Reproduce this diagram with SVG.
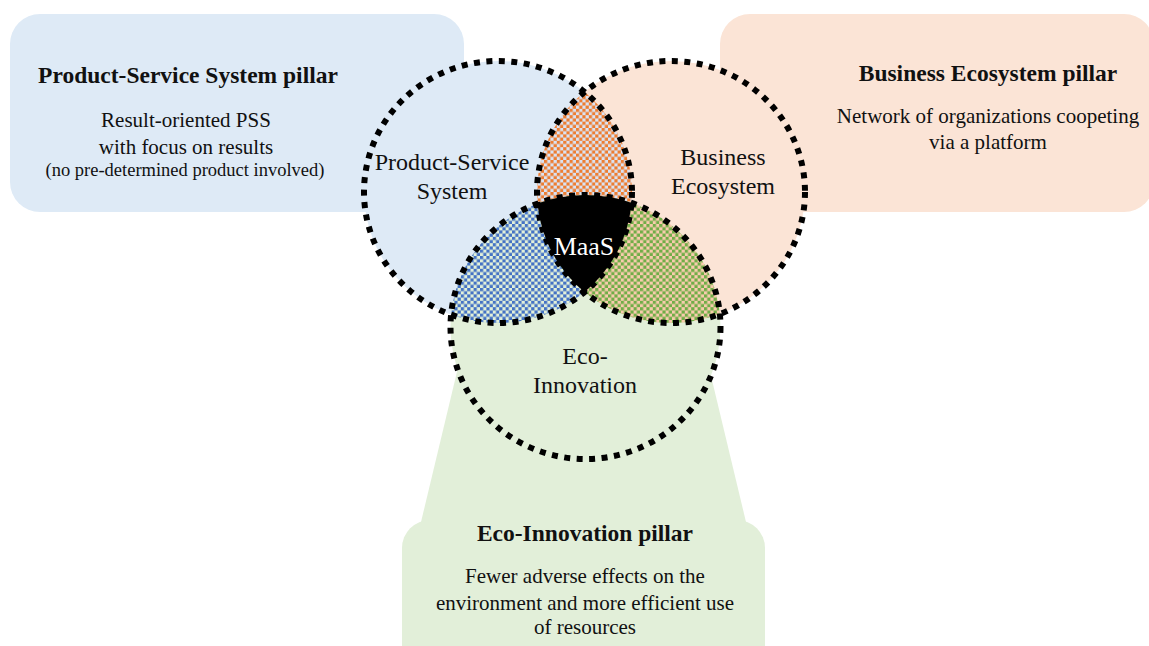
<svg xmlns="http://www.w3.org/2000/svg" width="1149" height="646" viewBox="0 0 1149 646">
  <style>
    .t { font-family: "Liberation Serif", "Times New Roman", serif; fill: #111; text-anchor: middle; }
    .title { font-size: 23.5px; font-weight: bold; }
    .body { font-size: 21px; }
    .small { font-size: 18.5px; }
    .lbl { font-size: 24px; }
    .maas { font-size: 26px; fill: #ffffff; }
    .dots { fill: none; stroke: #000; stroke-width: 6; stroke-dasharray: 6 6.5; }
  </style>
  <defs>
    <pattern id="chkOrange" patternUnits="userSpaceOnUse" width="6.4" height="6.4">
      <rect width="6.4" height="6.4" fill="#DAE3F3"/>
      <rect width="3.2" height="3.2" fill="#ED7D31"/>
      <rect x="3.2" y="3.2" width="3.2" height="3.2" fill="#ED7D31"/>
    </pattern>
    <pattern id="chkBlue" patternUnits="userSpaceOnUse" width="6.4" height="6.4">
      <rect width="6.4" height="6.4" fill="#E2F0D9"/>
      <rect width="3.2" height="3.2" fill="#4472C4"/>
      <rect x="3.2" y="3.2" width="3.2" height="3.2" fill="#4472C4"/>
    </pattern>
    <pattern id="chkGreen" patternUnits="userSpaceOnUse" width="6.4" height="6.4">
      <rect width="6.4" height="6.4" fill="#F8CBAD"/>
      <rect width="3.2" height="3.2" fill="#70AD47"/>
      <rect x="3.2" y="3.2" width="3.2" height="3.2" fill="#70AD47"/>
    </pattern>
    <clipPath id="cPSS"><ellipse cx="498" cy="192" rx="134" ry="131"/></clipPath>
    <clipPath id="cBE"><ellipse cx="671" cy="192" rx="134" ry="131"/></clipPath>
  </defs>

  <g id="pillar-pss">
    <rect x="10" y="14" width="454" height="198" rx="30" fill="#DEEAF6"/>
  </g>
  <g id="pillar-be">
    <rect x="720" y="14" width="434" height="198" rx="30" fill="#FBE4D6"/>
  </g>
  <g id="connectors">
    <polygon points="467,330 700,330 746,522 421,522" fill="#E2EFD9"/>
  </g>
  <g id="pillar-ei">
    <rect x="402" y="520" width="363" height="160" rx="28" fill="#E2EFD9"/>
  </g>

  <g id="circle-pss">
    <ellipse cx="498" cy="192" rx="134" ry="131" fill="#DEEAF6"/>
  </g>
  <g id="circle-be">
    <ellipse cx="671" cy="192" rx="134" ry="131" fill="#FBE4D6"/>
  </g>
  <g id="circle-ei">
    <ellipse cx="585.5" cy="327" rx="135" ry="132" fill="#E2EFD9"/>
  </g>

  <g id="overlap-pss-be">
    <ellipse cx="671" cy="192" rx="134" ry="131" fill="url(#chkOrange)" clip-path="url(#cPSS)"/>
  </g>
  <g id="overlap-pss-ei">
    <ellipse cx="585.5" cy="327" rx="135" ry="132" fill="url(#chkBlue)" clip-path="url(#cPSS)"/>
  </g>
  <g id="overlap-be-ei">
    <ellipse cx="585.5" cy="327" rx="135" ry="132" fill="url(#chkGreen)" clip-path="url(#cBE)"/>
  </g>
  <g id="maas" clip-path="url(#cPSS)">
    <ellipse cx="585.5" cy="327" rx="135" ry="132" fill="#000" clip-path="url(#cBE)"/>
  </g>

  <g id="outlines">
    <ellipse class="dots" cx="498" cy="192" rx="134" ry="131"/>
    <ellipse class="dots" cx="671" cy="192" rx="134" ry="131"/>
    <ellipse class="dots" cx="585.5" cy="327" rx="135" ry="132"/>
  </g>

  <g id="labels">
    <text class="t title" x="188" y="83">Product-Service System pillar</text>
    <text class="t body" x="186" y="127">Result-oriented PSS</text>
    <text class="t body" x="186" y="154">with focus on results</text>
    <text class="t small" x="185" y="176">(no pre-determined product involved)</text>

    <text class="t title" x="988" y="81">Business Ecosystem pillar</text>
    <text class="t body" x="988" y="123">Network of organizations coopeting</text>
    <text class="t body" x="988" y="149">via a platform</text>

    <text class="t title" x="585" y="541">Eco-Innovation pillar</text>
    <text class="t body" x="585" y="583">Fewer adverse effects on the</text>
    <text class="t body" x="585" y="610">environment and more efficient use</text>
    <text class="t body" x="585" y="634">of resources</text>

    <text class="t lbl" x="452" y="170">Product-Service</text>
    <text class="t lbl" x="452" y="199">System</text>
    <text class="t lbl" x="723" y="165">Business</text>
    <text class="t lbl" x="723" y="194">Ecosystem</text>
    <text class="t lbl" x="585" y="364">Eco-</text>
    <text class="t lbl" x="585" y="393">Innovation</text>
    <text class="t maas" x="584" y="255">MaaS</text>
  </g>
</svg>
